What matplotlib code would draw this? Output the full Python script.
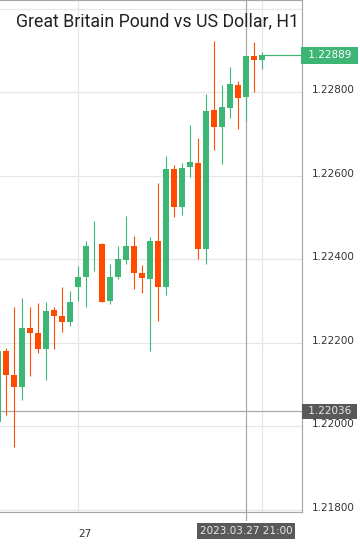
import numpy as np
import matplotlib
matplotlib.use("Agg")
import matplotlib.pyplot as plt
import matplotlib.transforms as mtransforms

# hourly GBPUSD candles, oldest first (last one is 2023.03.27 23:00)
opens = [1.22010, 1.22180, 1.22123, 1.22094, 1.22235, 1.22223, 1.22185, 1.22279, 1.22264, 1.22250,
         1.22334, 1.22358, 1.22432, 1.22437, 1.22300, 1.22358, 1.22398, 1.22432, 1.22367, 1.22353,
         1.22444, 1.22334, 1.22616, 1.22525, 1.22621, 1.22631, 1.22425, 1.22758, 1.22717, 1.22762,
         1.22817, 1.22789, 1.22887, 1.22877]
highs = [1.22195, 1.22188, 1.22286, 1.22307, 1.22286, 1.22295, 1.22298, 1.22286, 1.22334, 1.22324,
         1.22384, 1.22444, 1.22492, 1.22439, 1.22389, 1.22432, 1.22504, 1.22456, 1.22386, 1.22453,
         1.22583, 1.22647, 1.22626, 1.22631, 1.22722, 1.22691, 1.22796, 1.22923, 1.22817, 1.22861,
         1.22827, 1.22887, 1.22920, 1.22897]
lows = [1.21991, 1.22027, 1.21950, 1.22063, 1.22120, 1.22176, 1.22111, 1.22185, 1.22226, 1.22240,
        1.22300, 1.22286, 1.22372, 1.22298, 1.22293, 1.22353, 1.22389, 1.22329, 1.22319, 1.22180,
        1.22252, 1.22314, 1.22501, 1.22506, 1.22597, 1.22401, 1.22389, 1.22662, 1.22628, 1.22738,
        1.22712, 1.22731, 1.22801, 1.22856]
closes = [1.22180, 1.22123, 1.22094, 1.22235, 1.22223, 1.22185, 1.22276, 1.22264, 1.22250, 1.22298,
          1.22358, 1.22432, 1.22432, 1.22298, 1.22358, 1.22401, 1.22432, 1.22367, 1.22355, 1.22444,
          1.22334, 1.22616, 1.22525, 1.22619, 1.22633, 1.22425, 1.22755, 1.22717, 1.22765, 1.22820,
          1.22786, 1.22887, 1.22877, 1.22889]

price_ticks = [1.21800, 1.22000, 1.22200, 1.22400, 1.22600, 1.22800, 1.23000]
day_index = 10          # first candle of the 27th
day_label = "27"
cursor_index = 31
cursor_label = "2023.03.27 21:00"
cursor_price = 1.22036
last_price = 1.22889
title = "Great Britain Pound vs US Dollar, H1"

GREEN = "#3db574"
RED = "#ff4a00"
GRID = "#e6e6e6"
LINE = "#a8a8a8"
PX = 0.72  # one pixel in points at dpi 100

fig = plt.figure(figsize=(3.6, 5.47), dpi=100)
ax = fig.add_axes([0, 35 / 547, 302 / 360, 512 / 547])

x = np.arange(len(opens))
o = np.array(opens)
c = np.array(closes)
colors = [GREEN if cc >= oo else RED for oo, cc in zip(o, c)]

# wicks then bodies
ax.vlines(x, lows, highs, colors=colors, linewidth=PX * 1.1, zorder=3)
ax.bar(x, c - o, bottom=o, width=0.75, color=colors, linewidth=0, zorder=4)

ax.set_xlim(0.25, 38.0)
ax.set_ylim(1.217947, 1.230211)

# grid
for p in price_ticks:
    ax.axhline(p, color=GRID, linewidth=PX * 1.2, zorder=1)
for k in [day_index, len(opens) - 1]:
    ax.axvline(k, color=GRID, linewidth=PX * 1.2, zorder=1)

# crosshair
ax.axhline(cursor_price, color=LINE, linewidth=PX * 1.2, zorder=2)
ax.axvline(cursor_index, ymin=-0.016, ymax=1, color=LINE, linewidth=PX * 1.2, zorder=2, clip_on=False)

# current price line from last candle to the scale
ax.plot([len(opens) - 0.6, 38.0], [last_price, last_price], color=GREEN, linewidth=PX * 1.2, zorder=3)

# right price scale
ax.yaxis.tick_right()
ax.set_yticks(price_ticks)
ax.set_yticklabels(["%.5f" % p if p < 1.229 else "" for p in price_ticks])
ax.tick_params(axis="y", length=0, pad=7, labelsize=7.5, labelcolor="#333333")
shift = mtransforms.ScaledTranslation(0, 3 / 100, fig.dpi_scale_trans)
for lbl in ax.get_yticklabels():
    lbl.set_transform(lbl.get_transform() + shift)

# time scale
ax.set_xticks([day_index])
ax.set_xticklabels([day_label])
ax.tick_params(axis="x", length=0, pad=12, labelsize=7.5, labelcolor="#333333")
for lbl in ax.get_xticklabels():
    lbl.set_ha("left")

for side in ["top", "right", "bottom"]:
    ax.spines[side].set_color(LINE)
    ax.spines[side].set_linewidth(PX * 1.2)
ax.spines["left"].set_visible(False)

# boxed labels on the scales
yblend = mtransforms.blended_transform_factory(ax.transAxes, ax.transData)
ax.text(1.01, last_price, " %.5f " % last_price, transform=yblend, ha="left", va="center",
        fontsize=7.5, color="white", clip_on=False, zorder=6,
        bbox=dict(boxstyle="square,pad=0.35", fc=GREEN, ec="none"))
ax.text(1.01, cursor_price, " %.5f " % cursor_price, transform=yblend, ha="left", va="center",
        fontsize=7.5, color="#e8e8e8", clip_on=False, zorder=6,
        bbox=dict(boxstyle="square,pad=0.25", fc="#595959", ec="none"))
xblend = mtransforms.blended_transform_factory(ax.transData, ax.transAxes)
ax.text(cursor_index, -19 / 512, cursor_label, transform=xblend, ha="center", va="center",
        fontsize=7.5, color="#e8e8e8", clip_on=False, zorder=6,
        bbox=dict(boxstyle="square,pad=0.3", fc="#595959", ec="none"))

ax.text(16 / 302, 1 - 21 / 512, title, transform=ax.transAxes, ha="left", va="center",
        fontsize=12.8, family="Roboto", color="#222222", zorder=7)

fig.savefig("out.png", dpi=100)
